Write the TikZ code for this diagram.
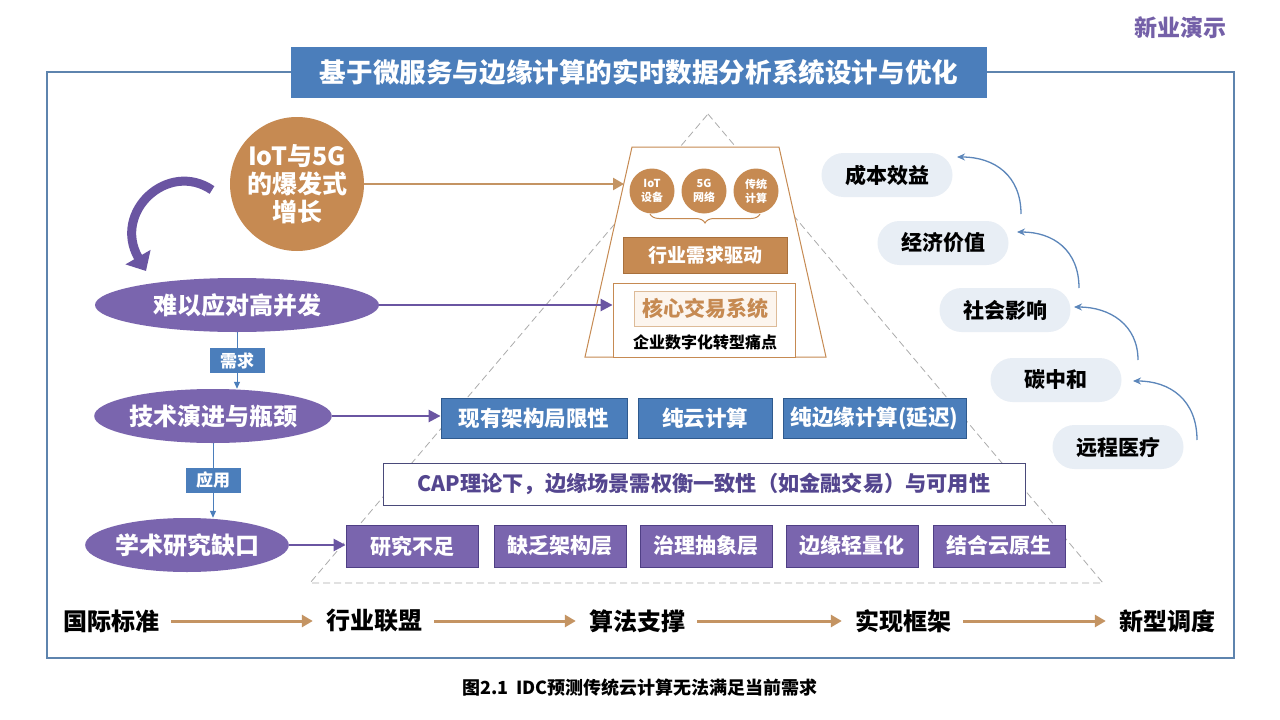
\documentclass[tikz,border=0pt]{standalone}
\usepackage{fontspec}
\setmainfont{Noto Sans CJK SC}
\usetikzlibrary{arrows.meta,shapes.geometric,decorations.pathreplacing,calc}
\definecolor{purp}{HTML}{7A65AE}
\definecolor{purpdark}{HTML}{4F3F85}
\definecolor{purparrow}{HTML}{6A55A2}
\definecolor{tanc}{HTML}{C68A52}
\definecolor{tandark}{HTML}{A8703C}
\definecolor{tanarrow}{HTML}{C49463}
\definecolor{tanlight}{HTML}{DDBB98}
\definecolor{beige}{HTML}{FCF5EE}
\definecolor{blu}{HTML}{4B7EBB}
\definecolor{bludark}{HTML}{2F5A8E}
\definecolor{framec}{HTML}{5E84AE}
\definecolor{pillc}{HTML}{E8EEF5}
\definecolor{curvc}{HTML}{5C86BA}
\definecolor{captext}{HTML}{54468F}
\definecolor{capborder}{HTML}{4A4A7A}
\definecolor{brand}{HTML}{7460A8}
\tikzset{
  bluebox/.style={draw=bludark, fill=blu, text=white, line width=0.8pt, minimum height=40, inner sep=0,
    font=\bfseries\fontsize{21.5}{25}\selectfont},
  purpbox/.style={draw=purpdark, fill=purp, text=white, line width=0.8pt, minimum width=132, minimum height=42, inner sep=0,
    font=\bfseries\fontsize{21}{25}\selectfont},
  purpell/.style={ellipse, fill=purp, text=white, minimum height=54, inner sep=0,
    font=\bfseries\fontsize{24}{28}\selectfont},
  smallcirc/.style={circle, fill=tanc, text=white, minimum size=45, inner sep=0, align=center,
    font=\bfseries\fontsize{11}{14}\selectfont},
  pill/.style={rounded corners=22, fill=pillc, minimum width=131, minimum height=44, inner sep=0,
    font=\bfseries\fontsize{21}{25}\selectfont},
  foot/.style={inner sep=0, font=\bfseries\fontsize{24}{28}\selectfont},
  lbl/.style={fill=blu, text=white, minimum width=55, minimum height=25, inner sep=0,
    font=\bfseries\fontsize{17}{20}\selectfont},
  thinblue/.style={draw=blu, line width=1pt, -{Triangle[length=7pt,width=6pt]}},
  purparr/.style={draw=purparrow, line width=2.5pt, -{Triangle[length=12pt,width=12pt]}},
  tanarr/.style={draw=tanarrow, line width=3pt, -{Triangle[length=11pt,width=12pt]}},
  curvarr/.style={draw=curvc, line width=1.3pt, -{Stealth[length=8pt,width=7pt]}},
}
\begin{document}
\begin{tikzpicture}[x=1pt,y=-1pt]
\useasboundingbox (0,0) rectangle (1280,720);
\fill[white] (0,0) rectangle (1280,720);

% frame and title
\draw[framec, line width=1.6pt] (47,72) rectangle (1234,658);
\node[fill=blu, text=white, minimum width=696, minimum height=51, inner sep=0,
  font=\bfseries\fontsize{26.6}{30}\selectfont] (title) at (639,72.5) {基于微服务与边缘计算的实时数据分析系统设计与优化};
\node[text=brand, inner sep=0, font=\bfseries\fontsize{23}{27}\selectfont] (brand) at (1180,28) {新业演示};

% dashed pyramid
\draw[gray!65, line width=0.8pt, dash pattern=on 7pt off 4pt] (708,114) -- (1103,583) -- (310,583) -- cycle;

% trapezoid
\draw[tanc, line width=1pt, fill=white] (632,147) -- (779,147) -- (826,357) -- (585,357) -- cycle;
\coordinate (trapL) at (624,184);
\node[smallcirc] (c1) at (652,191) {IoT\\设备};
\node[smallcirc] (c2) at (704,191) {5G\\网络};
\node[smallcirc] (c3) at (756,191) {传统\\计算};
\draw[tanc, line width=1pt, decorate, decoration={brace, mirror, amplitude=9pt}] (650,214) -- (760,214);
\node[draw=tandark, fill=tanc, text=white, minimum width=164, minimum height=36, inner sep=0,
  font=\bfseries\fontsize{19}{23}\selectfont] (drive) at (705,255) {行业需求驱动};
\node[draw=tanc, fill=white, line width=0.8pt, minimum width=182, minimum height=74, inner sep=0] (pain) at (704,320) {};
\node[draw=tanlight, fill=beige, line width=1pt, text=tanc, minimum width=142, minimum height=35, inner sep=0,
  font=\bfseries\fontsize{21}{25}\selectfont] (core) at (705,308.5) {核心交易系统};
\node[inner sep=0, font=\bfseries\fontsize{16}{19}\selectfont] (painlbl) at (705,342) {企业数字化转型痛点};

% big circle
\node[circle, fill=tanc, text=white, minimum size=134, inner sep=0, align=center,
  font=\bfseries\fontsize{25}{28}\selectfont] (iot) at (297,184) {IoT与5G\\的爆发式\\增长};
\draw[tanarr, line width=2.5pt] (iot.east) -- (trapL);

% curved purple arrow
\coordinate (ptail) at (212,190);
\coordinate (phead) at (146,271);
\draw[purparrow, line width=9pt, -{Triangle[length=16pt,width=28pt]}] (ptail) .. controls (168,160) and (112,212) .. (phead);

% ellipses
\node[purpell, minimum width=284] (e1) at (237,305) {难以应对高并发};
\node[purpell, minimum width=236] (e2) at (213,416) {技术演进与瓶颈};
\node[purpell, minimum width=186] (e3) at (187,545) {学术研究缺口};

\draw[thinblue] (e1.south) -- node[lbl] {需求} (e1.south |- e2.north);
\draw[thinblue] (e2.south) -- node[lbl] {应用} (e2.south |- e3.north);

% blue boxes
\node[bluebox, minimum width=186] (b1) at (534,418) {现有架构局限性};
\node[bluebox, minimum width=134] (b2) at (705,418) {纯云计算};
\node[bluebox, minimum width=183] (b3) at (874.5,418) {纯边缘计算(延迟)};

% CAP box
\node[draw=capborder, fill=white, line width=0.8pt, text=captext, minimum width=642, minimum height=42, inner sep=0,
  font=\bfseries\fontsize{21.2}{25}\selectfont] (cap) at (704,484) {CAP理论下，边缘场景需权衡一致性（如金融交易）与可用性};

% purple boxes
\node[purpbox] (p1) at (412,546) {研究不足};
\node[purpbox] (p2) at (560,546) {缺乏架构层};
\node[purpbox] (p3) at (706,546) {治理抽象层};
\node[purpbox] (p4) at (852,546) {边缘轻量化};
\node[purpbox] (p5) at (999,546) {结合云原生};

% horizontal arrows from ellipses
\draw[purparr] (e1.east) -- (e1.east -| pain.west);
\draw[purparr] (e2.east) -- (e2.east -| b1.west);
\draw[purparr] (e3.east) -- (e3.east -| p1.west);

% right pills
\node[pill] (v1) at (887,175) {成本效益};
\node[pill] (v2) at (943,243) {经济价值};
\node[pill] (v3) at (1005,310) {社会影响};
\node[pill] (v4) at (1056,380) {碳中和};
\node[pill] (v5) at (1118,447) {远程医疗};
\coordinate (s1) at (1021,214);
\coordinate (s2) at (1079,288);
\coordinate (s3) at (1138,360);
\coordinate (s4) at (1197,440);
\coordinate (t1) at (957,157);
\coordinate (t2) at (1017,232);
\coordinate (t3) at (1074,307);
\coordinate (t4) at (1133,381);
\draw[curvarr] (s1) .. controls (1021,176) and (995,157) .. (t1);
\draw[curvarr] (s2) .. controls (1079,250) and (1053,232) .. (t2);
\draw[curvarr] (s3) .. controls (1138,325) and (1110,307) .. (t3);
\draw[curvarr] (s4) .. controls (1197,400) and (1170,381) .. (t4);

% bottom row
\node[foot] (f1) at (111,621) {国际标准};
\node[foot] (f2) at (374,621) {行业联盟};
\node[foot] (f3) at (637,621) {算法支撑};
\node[foot] (f4) at (903,621) {实现框架};
\node[foot] (f5) at (1167,621) {新型调度};
\draw[tanarr, shorten <=12pt, shorten >=13pt] (f1) -- (f2);
\draw[tanarr, shorten <=12pt, shorten >=13pt] (f2) -- (f3);
\draw[tanarr, shorten <=12pt, shorten >=13pt] (f3) -- (f4);
\draw[tanarr, shorten <=12pt, shorten >=13pt] (f4) -- (f5);

% caption
\node[inner sep=0, font=\bfseries\fontsize{18}{22}\selectfont] (caption) at (640,688) {图2.1\ \ IDC预测传统云计算无法满足当前需求};
\end{tikzpicture}
\end{document}
